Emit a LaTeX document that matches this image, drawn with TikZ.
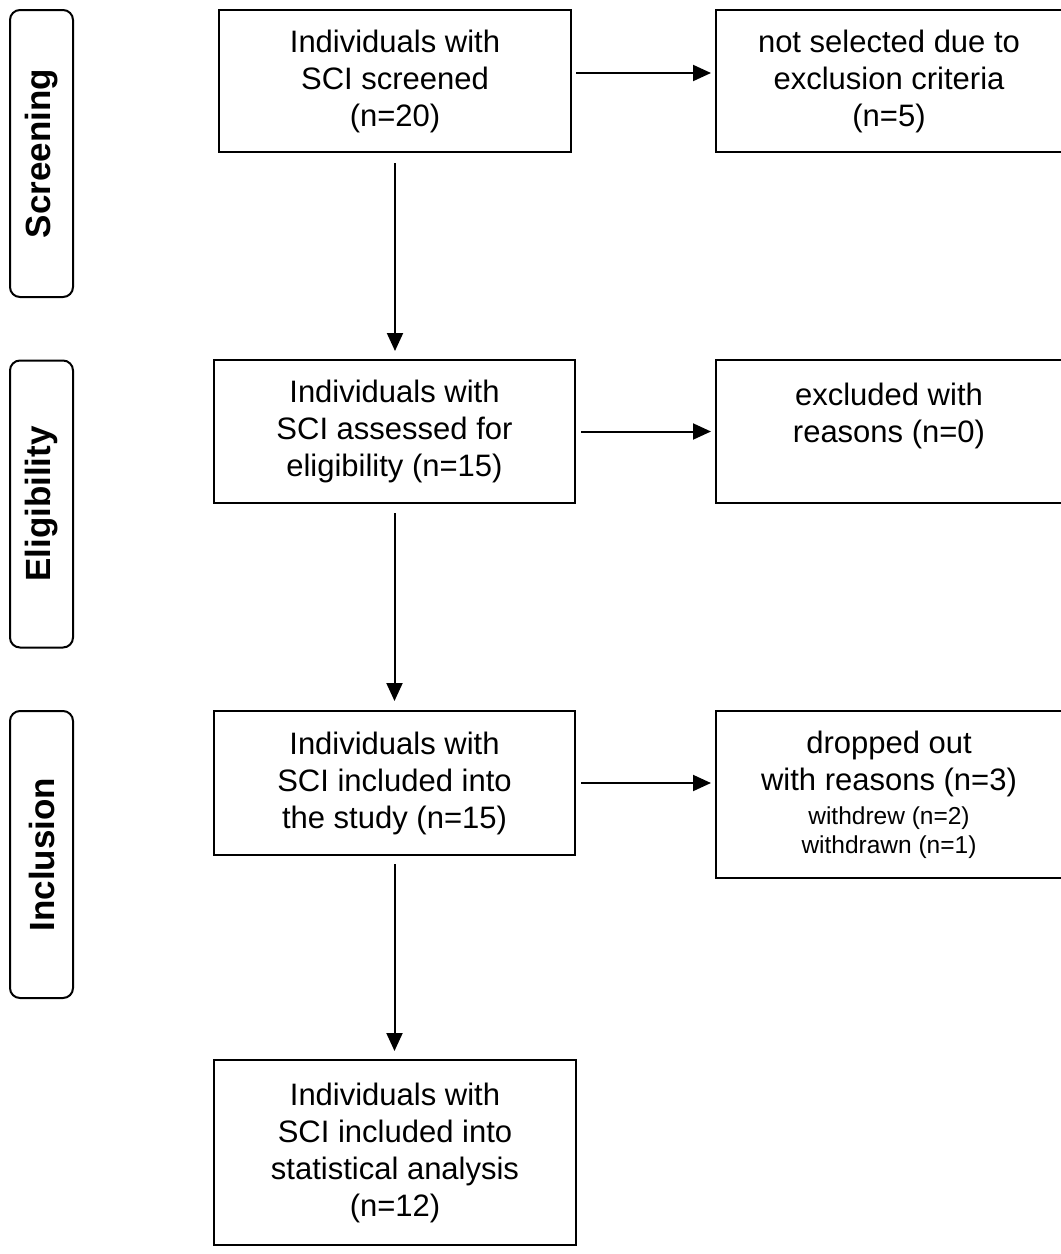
\documentclass[tikz,border=0pt]{standalone}
\usepackage{fontspec}
\setmainfont{Liberation Sans}
\usetikzlibrary{arrows.meta}
\begin{document}
\begin{tikzpicture}[x=1pt,y=-1pt,
  box/.style={draw, line width=2pt, align=center, inner sep=0pt,
    font=\fontsize{31pt}{37pt}\selectfont},
  phase/.style={draw, line width=2pt, rounded corners=10pt, rotate=90,
    minimum width=287pt, minimum height=63pt, inner sep=0pt,
    font=\fontsize{35pt}{40pt}\selectfont\bfseries},
  arr/.style={line width=2pt, -{Triangle[length=18pt,width=16pt]}}]
\useasboundingbox (0,0) rectangle (1061,1254);

% phase labels
\node[phase] (ps) at (41.5,153.5) {Screening};
\node[phase] (pe) at (41.5,504) {Eligibility};
\node[phase] (pi) at (41.5,854.5) {Inclusion};

% main boxes
\node[box, minimum width=352pt, minimum height=142pt] (b1) at (395,81)
  {Individuals with\\SCI screened\\(n=20)};
\node[box, minimum width=361pt, minimum height=143pt] (b2) at (394.5,431.5)
  {Individuals with\\SCI assessed for\\eligibility (n=15)};
\node[box, minimum width=361pt, minimum height=144pt] (b3) at (394.5,783)
  {Individuals with\\SCI included into\\the study (n=15)};
\node[box, minimum width=362pt, minimum height=185pt] (b4) at (395,1152.5)
  {Individuals with\\SCI included into\\statistical analysis\\(n=12)};

% right boxes
\node[box, minimum width=346pt, minimum height=142pt] (r1) at (889,81)
  {not selected due to\\exclusion criteria\\(n=5)};
\node[box, minimum width=346pt, minimum height=143pt] (r2) at (889,431.5)
  {excluded with\\reasons (n=0)\\\mbox{}};
\node[box, minimum width=346pt, minimum height=167pt] (r3) at (889,794.5)
  {dropped out\\with reasons (n=3)\\[-3pt]
   {\fontsize{24.5pt}{29pt}\selectfont withdrew (n=2)}\\[-8pt]
   {\fontsize{24.5pt}{29pt}\selectfont withdrawn (n=1)}};

% vertical arrows
\draw[arr, shorten <=10pt, shorten >=8pt] (b1.south) -- (b1.south |- b2.north);
\draw[arr, shorten <=9pt, shorten >=9pt] (b2.south) -- (b2.south |- b3.north);
\draw[arr, shorten <=8pt, shorten >=8pt] (b3.south) -- (b3.south |- b4.north);

% horizontal arrows
\draw[arr, shorten <=4pt, shorten >=4pt] ([yshift=8pt]b1.east) -- ([yshift=8pt]b1.east -| r1.west);
\draw[arr, shorten <=5pt, shorten >=4pt] (b2.east) -- (b2.east -| r2.west);
\draw[arr, shorten <=5pt, shorten >=4pt] (b3.east) -- (b3.east -| r3.west);
\end{tikzpicture}
\end{document}
